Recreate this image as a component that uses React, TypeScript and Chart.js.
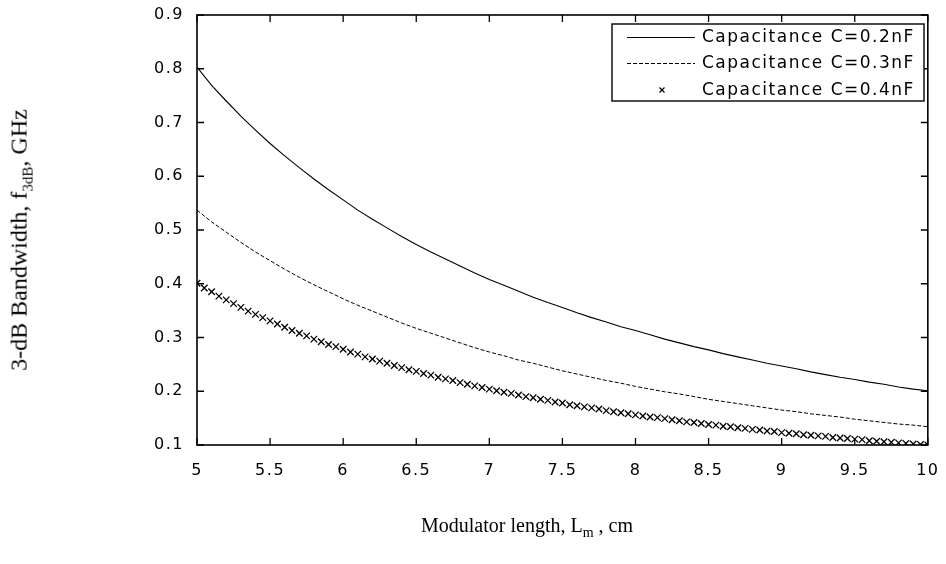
import React, { useEffect, useRef } from "react";
import { Chart, registerables } from "chart.js";

Chart.register(...registerables);

// Modulator length (cm) for the two line series
const lengthsCoarse = [
  5.0, 5.1, 5.2, 5.3, 5.4, 5.5, 5.6, 5.7, 5.8, 5.9,
  6.0, 6.1, 6.2, 6.3, 6.4, 6.5, 6.6, 6.7, 6.8, 6.9,
  7.0, 7.1, 7.2, 7.3, 7.4, 7.5, 7.6, 7.7, 7.8, 7.9,
  8.0, 8.1, 8.2, 8.3, 8.4, 8.5, 8.6, 8.7, 8.8, 8.9,
  9.0, 9.1, 9.2, 9.3, 9.4, 9.5, 9.6, 9.7, 9.8, 9.9, 10.0,
];

// 3-dB bandwidth (GHz), C = 0.2 nF
const bandwidthC02 = [
  0.803, 0.769, 0.740, 0.712, 0.686, 0.661, 0.638, 0.616, 0.595, 0.575,
  0.556, 0.537, 0.520, 0.504, 0.488, 0.473, 0.459, 0.446, 0.433, 0.420,
  0.408, 0.397, 0.386, 0.375, 0.365, 0.356, 0.346, 0.337, 0.329, 0.320,
  0.313, 0.305, 0.297, 0.290, 0.283, 0.277, 0.270, 0.264, 0.258, 0.252,
  0.247, 0.242, 0.236, 0.231, 0.226, 0.222, 0.217, 0.213, 0.208, 0.204, 0.201,
];

// 3-dB bandwidth (GHz), C = 0.3 nF
const bandwidthC03 = [
  0.537, 0.515, 0.496, 0.477, 0.459, 0.443, 0.427, 0.412, 0.398, 0.385,
  0.372, 0.360, 0.349, 0.338, 0.327, 0.317, 0.308, 0.299, 0.290, 0.281,
  0.273, 0.266, 0.258, 0.252, 0.245, 0.238, 0.232, 0.226, 0.220, 0.215,
  0.209, 0.204, 0.199, 0.195, 0.190, 0.185, 0.181, 0.177, 0.173, 0.169,
  0.165, 0.162, 0.158, 0.155, 0.152, 0.148, 0.145, 0.142, 0.139, 0.137, 0.134,
];

// Modulator length (cm) for the marker series
const lengthsFine = [
  5.00, 5.05, 5.10, 5.15, 5.20, 5.25, 5.30, 5.35, 5.40, 5.45,
  5.50, 5.55, 5.60, 5.65, 5.70, 5.75, 5.80, 5.85, 5.90, 5.95,
  6.00, 6.05, 6.10, 6.15, 6.20, 6.25, 6.30, 6.35, 6.40, 6.45,
  6.50, 6.55, 6.60, 6.65, 6.70, 6.75, 6.80, 6.85, 6.90, 6.95,
  7.00, 7.05, 7.10, 7.15, 7.20, 7.25, 7.30, 7.35, 7.40, 7.45,
  7.50, 7.55, 7.60, 7.65, 7.70, 7.75, 7.80, 7.85, 7.90, 7.95,
  8.00, 8.05, 8.10, 8.15, 8.20, 8.25, 8.30, 8.35, 8.40, 8.45,
  8.50, 8.55, 8.60, 8.65, 8.70, 8.75, 8.80, 8.85, 8.90, 8.95,
  9.00, 9.05, 9.10, 9.15, 9.20, 9.25, 9.30, 9.35, 9.40, 9.45,
  9.50, 9.55, 9.60, 9.65, 9.70, 9.75, 9.80, 9.85, 9.90, 9.95, 10.00,
];

// 3-dB bandwidth (GHz), C = 0.4 nF
const bandwidthC04 = [
  0.401, 0.392, 0.385, 0.377, 0.370, 0.363, 0.356, 0.349, 0.343, 0.337,
  0.331, 0.325, 0.319, 0.313, 0.308, 0.303, 0.297, 0.292, 0.287, 0.283,
  0.278, 0.273, 0.269, 0.264, 0.260, 0.256, 0.252, 0.248, 0.244, 0.240,
  0.237, 0.233, 0.230, 0.226, 0.223, 0.220, 0.216, 0.213, 0.210, 0.207,
  0.204, 0.201, 0.198, 0.196, 0.193, 0.190, 0.188, 0.185, 0.183, 0.180,
  0.178, 0.175, 0.173, 0.171, 0.169, 0.167, 0.164, 0.162, 0.160, 0.158,
  0.156, 0.154, 0.152, 0.151, 0.149, 0.147, 0.145, 0.143, 0.142, 0.140,
  0.138, 0.137, 0.135, 0.134, 0.132, 0.131, 0.129, 0.128, 0.126, 0.125,
  0.123, 0.122, 0.121, 0.119, 0.118, 0.117, 0.116, 0.114, 0.113, 0.112,
  0.111, 0.110, 0.108, 0.107, 0.106, 0.105, 0.104, 0.103, 0.102, 0.101, 0.100,
];

const seriesLabels = [
  "Capacitance C=0.2nF",
  "Capacitance C=0.3nF",
  "Capacitance C=0.4nF",
];

const xTickValues = [5, 5.5, 6, 6.5, 7, 7.5, 8, 8.5, 9, 9.5, 10];
const yTickValues = [0.1, 0.2, 0.3, 0.4, 0.5, 0.6, 0.7, 0.8, 0.9];

const TICK_FONT = "DejaVu Sans";

const framePlugin = {
  id: "matlabFrame",
  beforeDraw(chart: any) {
    chart.ctx.letterSpacing = "1.5px";
  },
  afterDraw(chart: any) {
    const ctx = chart.ctx;
    ctx.letterSpacing = "0px";
    const { left, right, top, bottom } = chart.chartArea;
    const xs = chart.scales.x;
    const ys = chart.scales.y;
    ctx.save();
    ctx.strokeStyle = "#000";
    ctx.lineWidth = 1.6;
    ctx.strokeRect(left, top, right - left, bottom - top);
    ctx.lineWidth = 1.3;
    const tl = 7;
    ctx.beginPath();
    xTickValues.forEach((v) => {
      const px = xs.getPixelForValue(v);
      ctx.moveTo(px, bottom);
      ctx.lineTo(px, bottom - tl);
      ctx.moveTo(px, top);
      ctx.lineTo(px, top + tl);
    });
    yTickValues.forEach((v) => {
      const py = ys.getPixelForValue(v);
      ctx.moveTo(left, py);
      ctx.lineTo(left + tl, py);
      ctx.moveTo(right, py);
      ctx.lineTo(right - tl, py);
    });
    ctx.stroke();

    // Legend
    const bx = 612, by = 24, bw = 312, bh = 77;
    ctx.fillStyle = "#fff";
    ctx.fillRect(bx, by, bw, bh);
    ctx.lineWidth = 1.4;
    ctx.strokeStyle = "#000";
    ctx.strokeRect(bx, by, bw, bh);
    const rows = [37, 63, 90];
    const datasets = chart.data.datasets;
    rows.forEach((ry, i) => {
      const ds = datasets[i];
      ctx.save();
      ctx.strokeStyle = "#000";
      ctx.lineWidth = 1;
      if (i < 2) {
        ctx.setLineDash(ds.borderDash || []);
        ctx.beginPath();
        ctx.moveTo(627, ry + 0.5);
        ctx.lineTo(695, ry + 0.5);
        ctx.stroke();
      } else {
        const r = 3.5 * Math.SQRT1_2;
        ctx.lineWidth = 1.2;
        ctx.beginPath();
        ctx.moveTo(662 - r, ry - r);
        ctx.lineTo(662 + r, ry + r);
        ctx.moveTo(662 - r, ry + r);
        ctx.lineTo(662 + r, ry - r);
        ctx.stroke();
      }
      ctx.restore();
      ctx.fillStyle = "#000";
      ctx.font = `17px "${TICK_FONT}"`;
      ctx.letterSpacing = "1.5px";
      ctx.textAlign = "left";
      ctx.textBaseline = "middle";
      ctx.fillText(seriesLabels[i], 702, ry + 1);
      ctx.letterSpacing = "0px";
    });
    ctx.restore();
  },
};

export default function App() {
  const canvasRef = useRef<HTMLCanvasElement | null>(null);

  useEffect(() => {
    if (!canvasRef.current) return;
    const chart = new Chart(canvasRef.current, {
      type: "scatter",
      data: {
        datasets: [
          {
            label: seriesLabels[0],
            data: lengthsCoarse.map((x, i) => ({ x, y: bandwidthC02[i] })),
            showLine: true,
            borderColor: "#000",
            borderWidth: 1.1,
            pointRadius: 0,
            tension: 0,
          },
          {
            label: seriesLabels[1],
            data: lengthsCoarse.map((x, i) => ({ x, y: bandwidthC03[i] })),
            showLine: true,
            borderColor: "#000",
            borderWidth: 1,
            borderDash: [4, 2],
            pointRadius: 0,
            tension: 0,
          },
          {
            label: seriesLabels[2],
            data: lengthsFine.map((x, i) => ({ x, y: bandwidthC04[i] })),
            showLine: false,
            borderColor: "#000",
            backgroundColor: "#000",
            pointStyle: "crossRot",
            pointRadius: 4.6,
            pointBorderWidth: 1.3,
          },
        ],
      },
      options: {
        animation: false,
        responsive: false,
        layout: { padding: { top: 15, right: 14, left: 0, bottom: 0 } },
        plugins: {
          legend: { display: false },
          tooltip: { enabled: false },
        },
        scales: {
          x: {
            type: "linear",
            min: 5,
            max: 10,
            afterFit: (s: any) => {
              s.height = 119;
            },
            afterBuildTicks: (s: any) => {
              s.ticks = xTickValues.map((v) => ({ value: v }));
            },
            grid: { display: false },
            border: { display: false },
            ticks: {
              color: "#000",
              font: { family: TICK_FONT, size: 16 },
              padding: 8,
              maxRotation: 0,
              autoSkip: false,
              callback: (v: any) => String(Math.round(Number(v) * 10) / 10),
            },
          },
          y: {
            type: "linear",
            min: 0.1,
            max: 0.9,
            afterFit: (s: any) => {
              s.width = 197;
            },
            afterBuildTicks: (s: any) => {
              s.ticks = yTickValues.map((v) => ({ value: v }));
            },
            grid: { display: false },
            border: { display: false },
            ticks: {
              color: "#000",
              font: { family: TICK_FONT, size: 16 },
              padding: 5,
              autoSkip: false,
              callback: (v: any) => Number(v).toFixed(1),
            },
          },
        },
      },
      plugins: [framePlugin],
    } as any);
    return () => chart.destroy();
  }, []);

  return (
    <div style={{ position: "absolute", left: 0, top: 0, width: 946, height: 564, background: "#fff" }}>
      <canvas ref={canvasRef} width={946} height={564} style={{ display: "block" }} />
      <div
        style={{
          position: "absolute",
          left: 21,
          top: 240,
          transform: "translate(-50%, -50%) rotate(-90deg)",
          whiteSpace: "nowrap",
          fontFamily: '"Liberation Serif", serif',
          fontSize: 24,
          color: "#000",
        }}
      >
        3-dB Bandwidth, f<sub style={{ fontSize: 15 }}>3dB</sub>, GHz
      </div>
      <div
        style={{
          position: "absolute",
          left: 527,
          top: 527,
          transform: "translate(-50%, -50%)",
          whiteSpace: "nowrap",
          fontFamily: '"Liberation Serif", serif',
          fontSize: 20,
          color: "#000",
        }}
      >
        Modulator length, L<sub style={{ fontSize: 14 }}>m</sub> , cm
      </div>
    </div>
  );
}
